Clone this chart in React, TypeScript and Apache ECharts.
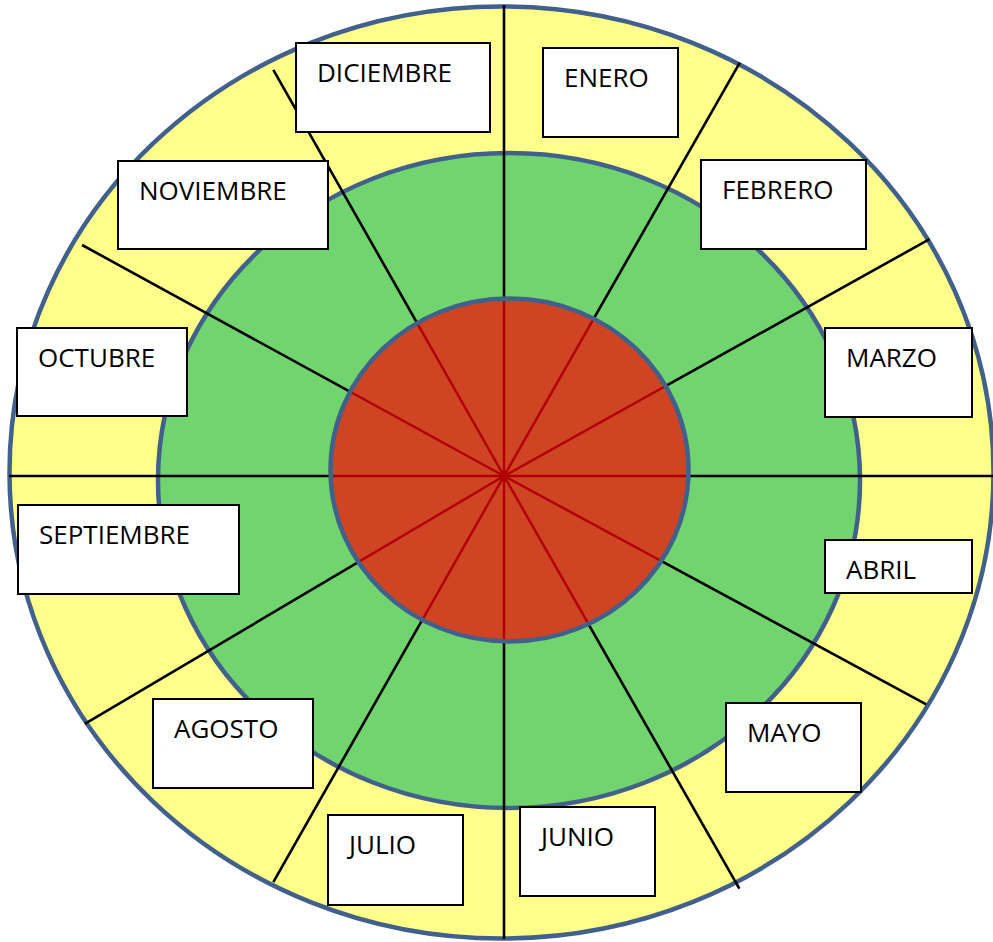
import React, { useEffect, useRef } from "react";
import * as echarts from "echarts";

// Month names, clockwise from the top
const months = [
  "ENERO", "FEBRERO", "MARZO", "ABRIL", "MAYO", "JUNIO",
  "JULIO", "AGOSTO", "SEPTIEMBRE", "OCTUBRE", "NOVIEMBRE", "DICIEMBRE",
];
// Spoke directions (degrees clockwise from the top) and their lengths, as read
const spokeAngles = [0, 29.7, 60.9, 90, 118.4, 150.3, 180, 209.6, 239.4, 270, 298.7, 330.4];
const spokeLengths = [471, 476, 487, 490, 480, 475, 463, 467, 487, 495, 481, 467];

// Layout (positions/sizes), separate from data
const CENTER = { x: 504, y: 476 };
const OUTER = { cx: 501.5, cy: 472.5, rx: 492, ry: 466 };
const MIDDLE = { cx: 509, cy: 480.5, rx: 351, ry: 327.5 };
const INNER = { cx: 509.5, cy: 470, rx: 179, ry: 171.5 };
// [x, y, w, h] of each month's label box, same order as months
const labelBoxes = [
  [543, 48, 135, 89],
  [701, 160, 165, 89],
  [825, 328, 147, 89],
  [825, 540, 147, 53],
  [726, 703, 135, 89],
  [520, 807, 135, 89],
  [328, 815, 135, 90],
  [153, 699, 160, 89],
  [18, 505, 221, 89],
  [17, 328, 170, 88],
  [118, 161, 210, 88],
  [296, 43, 194, 89],
];

const BORDER = "#41618c";
const YELLOW = "#ffff8a";
const GREEN = "#71d46f";
const RED = "#cf4423";
const DARKRED = "#b00000";

function spokeEnd(i: number) {
  const a = (spokeAngles[i] * Math.PI) / 180;
  return {
    x: CENTER.x + spokeLengths[i] * Math.sin(a),
    y: CENTER.y - spokeLengths[i] * Math.cos(a),
  };
}

// where the spoke leaves the inner ellipse
function innerHit(i: number) {
  const a = (spokeAngles[i] * Math.PI) / 180;
  const dx = Math.sin(a), dy = -Math.cos(a);
  const px = (CENTER.x - INNER.cx) / INNER.rx, py = (CENTER.y - INNER.cy) / INNER.ry;
  const qx = dx / INNER.rx, qy = dy / INNER.ry;
  const A = qx * qx + qy * qy;
  const B = 2 * (px * qx + py * qy);
  const C = px * px + py * py - 1;
  const t = (-B + Math.sqrt(B * B - 4 * A * C)) / (2 * A);
  return { x: CENTER.x + t * dx, y: CENTER.y + t * dy };
}

export default function App() {
  const ref = useRef<HTMLDivElement>(null);
  useEffect(() => {
    if (!ref.current) return;
    const chart = echarts.init(ref.current, null, { renderer: "svg" });
    const elements: any[] = [];
    elements.push({
      type: "ellipse",
      shape: OUTER,
      style: { fill: YELLOW, stroke: BORDER, lineWidth: 4.5 },
    });
    elements.push({
      type: "ellipse",
      shape: MIDDLE,
      style: { fill: GREEN, stroke: BORDER, lineWidth: 4.5 },
    });
    spokeAngles.forEach((_, i) => {
      const e = spokeEnd(i);
      elements.push({
        type: "line",
        shape: { x1: CENTER.x, y1: CENTER.y, x2: e.x, y2: e.y },
        style: { stroke: "#000", lineWidth: 2.6 },
      });
    });
    elements.push({
      type: "ellipse",
      shape: INNER,
      style: { fill: RED, stroke: null },
    });
    spokeAngles.forEach((_, i) => {
      const h = innerHit(i);
      elements.push({
        type: "line",
        shape: { x1: CENTER.x, y1: CENTER.y, x2: h.x, y2: h.y },
        style: { stroke: DARKRED, lineWidth: 2.4 },
      });
    });
    elements.push({
      type: "ellipse",
      shape: INNER,
      style: { fill: null, stroke: BORDER, lineWidth: 4.5 },
    });
    months.forEach((m, i) => {
      const [x, y, w, h] = labelBoxes[i];
      elements.push({
        type: "rect",
        shape: { x, y, width: w, height: h },
        style: { fill: "#fff", stroke: "#000", lineWidth: 2 },
      });
      elements.push({
        type: "text",
        x: x + 21,
        y: y + 29,
        style: {
          text: m,
          fill: "#000",
          font: '26px "Open Sans"',
          fontFamily: "Open Sans",
          fontSize: 26,
          align: "left",
          verticalAlign: "middle",
        },
      });
    });
    chart.setOption({
      animation: false,
      graphic: { elements },
    });
    return () => chart.dispose();
  }, []);
  return (
    <div
      ref={ref}
      style={{ position: "fixed", left: 0, top: 0, width: 993, height: 942, background: "#fff" }}
    />
  );
}
